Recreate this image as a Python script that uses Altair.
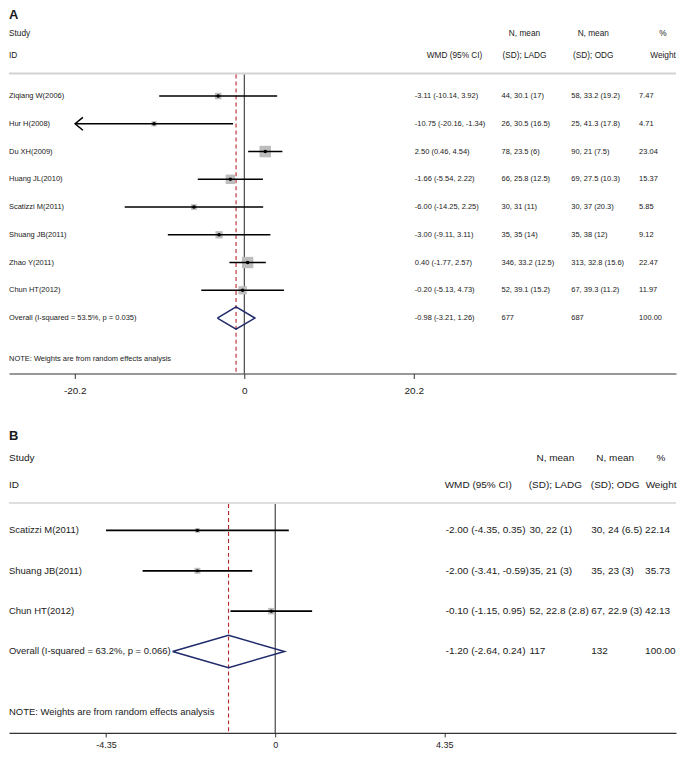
import altair as alt
import pandas as pd

FONT = "Liberation Sans"
TXT = "#1a1a1a"

# ---------------- Panel A data ----------------
studies_A = ["Ziqiang W(2006)", "Hur H(2008)", "Du XH(2009)", "Huang JL(2010)",
             "Scatizzi M(2011)", "Shuang JB(2011)", "Zhao Y(2011)", "Chun HT(2012)"]
est_A = [-3.11, -10.75, 2.50, -1.66, -6.00, -3.00, 0.40, -0.20]
lo_A = [-10.14, -20.16, 0.46, -5.54, -14.25, -9.11, -1.77, -5.13]
hi_A = [3.92, -1.34, 4.54, 2.22, 2.25, 3.11, 2.57, 4.73]
ladg_A = ["44, 30.1 (17)", "26, 30.5 (16.5)", "78, 23.5 (6)", "66, 25.8 (12.5)",
          "30, 31 (11)", "35, 35 (14)", "346, 33.2 (12.5)", "52, 39.1 (15.2)"]
odg_A = ["58, 33.2 (19.2)", "25, 41.3 (17.8)", "90, 21 (7.5)", "69, 27.5 (10.3)",
         "30, 37 (20.3)", "35, 38 (12)", "313, 32.8 (15.6)", "67, 39.3 (11.2)"]
weight_A = [7.47, 4.71, 23.04, 15.37, 5.85, 9.12, 22.47, 11.97]
clipped_A = [0, 1, 0, 0, 0, 0, 0, 0]
overall_A = {"label": "Overall  (I-squared = 53.5%, p = 0.035)", "est": -0.98,
             "lo": -3.21, "hi": 1.26, "n1": "677", "n2": "687", "w": "100.00"}
ticks_A = [-20.2, 0, 20.2]

# ---------------- Panel B data ----------------
studies_B = ["Scatizzi M(2011)", "Shuang JB(2011)", "Chun HT(2012)"]
est_B = [-2.00, -2.00, -0.10]
lo_B = [-4.35, -3.41, -1.15]
hi_B = [0.35, -0.59, 0.95]
ladg_B = ["30, 22 (1)", "35, 21 (3)", "52, 22.8 (2.8)"]
odg_B = ["30, 24 (6.5)", "35, 23 (3)", "67, 22.9 (3)"]
weight_B = [22.14, 35.73, 42.13]
clipped_B = [0, 0, 0]
overall_B = {"label": "Overall  (I-squared = 63.2%, p = 0.066)", "est": -1.20,
             "lo": -2.64, "hi": 0.24, "n1": "117", "n2": "132", "w": "100.00"}
ticks_B = [-4.35, 0, 4.35]

NOTE = "NOTE: Weights are from random effects analysis"


def fmt_ci(e, l, h):
    return f"{e:.2f} ({l:.2f}, {h:.2f})"


def panel(letter, studies, est, lo, hi, ladg, odg, weight, clipped, ov, ticks, g):
    n = len(studies)
    df = pd.DataFrame({
        "row": list(range(n)), "study": studies, "est": est, "lo": lo, "hi": hi,
        "wmd": [fmt_ci(e, l, h) for e, l, h in zip(est, lo, hi)],
        "ladg": ladg, "odg": odg, "wt": [f"{w:.2f}" for w in weight],
        "weight": weight, "clipped": clipped,
    })
    ov_df = pd.DataFrame({"row": [n], "study": [ov["label"]],
                          "wmd": [fmt_ci(ov["est"], ov["lo"], ov["hi"])],
                          "ladg": [ov["n1"]], "odg": [ov["n2"]], "wt": [ov["w"]]})
    text_df = pd.concat([df[["row", "study", "wmd", "ladg", "odg", "wt"]], ov_df],
                        ignore_index=True)
    h = 0.4
    diamond = pd.DataFrame({
        "x": [ov["lo"], ov["est"], ov["hi"], ov["est"], ov["lo"]],
        "y": [n, n - h, n, n + h, n],
        "o": [0, 1, 2, 3, 4],
    })
    arrows = df[df["clipped"] == 1]
    one = pd.DataFrame({"k": [0]})
    zero_df = pd.DataFrame({"v": [0.0]})
    ov_line = pd.DataFrame({"v": [ov["est"]]})

    W, H = g["W"], g["H"]
    xs = alt.Scale(domain=g["xdom"], nice=False, zero=False)
    ys = alt.Scale(domain=g["ydom"], nice=False, zero=False, reverse=True)
    ax = alt.Axis(values=ticks, title=None, grid=False, labelExpr="'' + datum.value",
                  tickSize=g["tick"], labelPadding=g["lpad"], labelFontSize=g["tfs"],
                  labelFont=FONT, labelColor=TXT, domainColor="#333333",
                  tickColor="#333333", domainWidth=1.2, tickWidth=1,
                  labelFlush=False, labelOverlap=False)

    def X(f):
        return alt.X(f, type="quantitative", scale=xs, axis=ax)

    def Y(f):
        return alt.Y(f, type="quantitative", scale=ys, axis=None)

    layers = []
    # separator line
    layers.append(alt.Chart(one).mark_rule(color="#d3d3d3", strokeWidth=g["sepw"]).encode(
        x=alt.value(0), x2=alt.value(W), y=alt.value(g["y_grey"])))
    # null line
    layers.append(alt.Chart(zero_df).mark_rule(color="#222222", strokeWidth=1).encode(
        x=X("v"), y=alt.value(g["y_grey"] + 1), y2=alt.value(H)))
    # overall dashed line
    layers.append(alt.Chart(ov_line).mark_rule(color="#b5262b", strokeWidth=1.1,
                                               strokeDash=[4, 3]).encode(
        x=X("v"), y=alt.value(g["y_grey"] + 1), y2=alt.value(H)))
    # weight boxes (area proportional to weight)
    layers.append(alt.Chart(df).transform_calculate(
        bsize=f"datum.weight * {g['boxk']}").mark_square(color="#bdbdbd", opacity=1).encode(
        x=X("est"), y=Y("row"), size=alt.Size("bsize:Q", scale=None)))
    # CI lines
    layers.append(alt.Chart(df).mark_rule(color="black", strokeWidth=g["ciw"]).encode(
        x=X("lo"), x2=alt.X2("hi"), y=Y("row")))
    # point estimates
    layers.append(alt.Chart(df).mark_circle(color="black", opacity=1, size=g["dot"]).encode(
        x=X("est"), y=Y("row")))
    # arrows for clipped CIs
    if len(arrows):
        layers.append(alt.Chart(arrows).mark_point(
            shape="M1.2,-1L0,0L1.2,1", filled=False, color="black",
            strokeWidth=1.5, size=169, opacity=1).encode(x=X("lo"), y=Y("row")))
    # overall diamond
    layers.append(alt.Chart(diamond).mark_line(color="#1f2a6b", strokeWidth=1.5).encode(
        x=X("x"), y=Y("y"), order="o:Q"))

    # row texts
    def col(field, xpos, fs):
        return alt.Chart(text_df).mark_text(align="left", baseline="middle", font=FONT,
                                            fontSize=fs, color=TXT).encode(
            x=alt.value(xpos), y=Y("row"), text=f"{field}:N")

    layers.append(col("study", 0, g["lfs"]))
    layers.append(col("wmd", g["cx"][0], g["rfs"]))
    layers.append(col("ladg", g["cx"][1], g["rfs"]))
    layers.append(col("odg", g["cx"][2], g["rfs"]))
    layers.append(col("wt", g["cx"][3], g["rfs"]))

    def label(txt, xpos, ypos, fs, align="left", bold=False, baseline="middle"):
        return alt.Chart(one).mark_text(text=txt, align=align, baseline=baseline, font=FONT,
                                        fontSize=fs, color=TXT,
                                        fontWeight="bold" if bold else "normal").encode(
            x=alt.value(xpos), y=alt.value(ypos))

    hfs = g["hfs"]
    layers += [
        label(letter, 0, 0, g["letfs"], bold=True, baseline="top"),
        label("Study", 0, g["y_study"], hfs),
        label("ID", 0, g["y_id"], hfs),
        label("WMD (95% CI)", g["hx"][0], g["y_id"], hfs),
        label("N, mean", g["hx"][1], g["y_study"], hfs, align="center"),
        label("(SD); LADG", g["hx"][1], g["y_id"], hfs, align="center"),
        label("N, mean", g["hx"][2], g["y_study"], hfs, align="center"),
        label("(SD); ODG", g["hx"][2], g["y_id"], hfs, align="center"),
        label("%", g["hx"][3], g["y_study"], hfs, align="center"),
        label("Weight", g["hx"][3], g["y_id"], hfs, align="center"),
        label(NOTE, 0, g["y_note"], g["lfs"]),
    ]
    return alt.layer(*layers).properties(width=W, height=H)


gA = dict(W=669, H=365.5, xdom=[-28.04, 51.45], ydom=[-3.133, 10.0],
          tick=5, lpad=7.5, tfs=10, sepw=2, boxk=5.8, ciw=1.5, dot=13,
          lfs=7.5, rfs=7.5, hfs=8.3, letfs=13,
          cx=[407, 494, 564, 632], hx=[419, 517, 586, 656],
          y_study=24.5, y_id=47, y_grey=64.7, y_note=350.8)
gB = dict(W=669, H=304, xdom=[-6.846, 10.308], ydom=[-2.493, 5.019],
          tick=4, lpad=4, tfs=9, sepw=1.5, boxk=1.0, ciw=1.8, dot=10,
          lfs=9.5, rfs=10, hfs=10, letfs=13,
          cx=[438, 522, 584, 638], hx=[437, 548, 608, 654],
          y_study=28.4, y_id=55.8, y_grey=73.4, y_note=283.2)

pA = panel("A", studies_A, est_A, lo_A, hi_A, ladg_A, odg_A, weight_A, clipped_A,
           overall_A, ticks_A, gA)
pB = panel("B", studies_B, est_B, lo_B, hi_B, ladg_B, odg_B, weight_B, clipped_B,
           overall_B, ticks_B, gB)

chart = alt.vconcat(pA, pB, spacing=34).properties(
    padding=0, background="white").configure_view(strokeWidth=0)

chart.save("out.html", embed_options={"renderer": "svg", "actions": False})
